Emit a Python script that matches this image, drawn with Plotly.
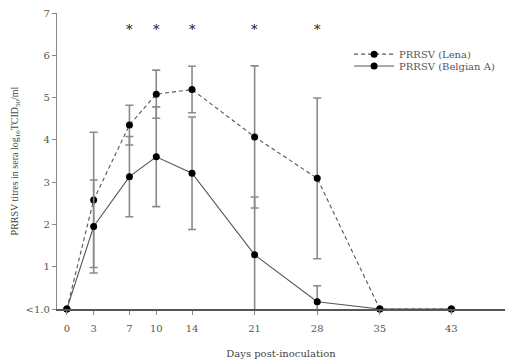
import plotly.graph_objects as go

days = [0, 3, 7, 10, 14, 21, 28, 35, 43]
lena = [0, 2.58, 4.35, 5.08, 5.19, 4.07, 3.09, 0, 0]
lena_err = [0, 1.6, 0.47, 0.57, 0.55, 1.68, 1.9, 0, 0]
belg = [0, 1.95, 3.13, 3.6, 3.21, 1.28, 0.17, 0, 0]
belg_err = [0, 1.1, 0.95, 1.18, 1.33, 1.37, 0.38, 0, 0]
sig_days = [7, 10, 14, 21, 28]
sig_y = 6.6
y_ticks = [0, 1, 2, 3, 4, 5, 6, 7]
y_labels = ["<1.0", "1", "2", "3", "4", "5", "6", "7"]

wide = "DejaVu Serif"
narrow = "Liberation Serif"
fig = go.Figure()
fig.add_trace(go.Scatter(
    x=days, y=lena, name="PRRSV (Lena)", mode="lines+markers", legend="legend",
    line=dict(color="#555", width=1.1, dash="4px,3px"),
    marker=dict(color="black", size=7, symbol="circle"),
    error_y=dict(type="data", array=lena_err, color="#8a8a8a", thickness=1.6, width=4),
    cliponaxis=False))
fig.add_trace(go.Scatter(
    x=days, y=belg, name="PRRSV (Belgian A)", mode="lines+markers", legend="legend2",
    line=dict(color="#555", width=1.1),
    marker=dict(color="black", size=7, symbol="circle"),
    error_y=dict(type="data", array=belg_err, color="#8a8a8a", thickness=1.6, width=4),
    cliponaxis=False))

for d in sig_days:
    fig.add_annotation(x=d, y=sig_y, text="*", showarrow=False,
                       font=dict(family=wide, size=13, color="#111"))

leg_common = dict(xanchor="left", yanchor="middle", bgcolor="rgba(0,0,0,0)",
                  font=dict(family=wide, size=10, color="#555"),
                  itemwidth=40, borderwidth=0)
fig.update_layout(
    width=508, height=355, plot_bgcolor="white", paper_bgcolor="white",
    margin=dict(l=49, r=11, t=5, b=54, autoexpand=False),
    font=dict(family=wide, size=10, color="#555"),
    showlegend=True,
    legend=dict(x=0.652, y=0.861, **leg_common),
    legend2=dict(x=0.652, y=0.821, **leg_common),
    xaxis=dict(range=[-1.1, 49.0], tickvals=days, ticks="outside", ticklen=4,
               ticklabelstandoff=5, ticklabeloverflow="allow",
               showgrid=False, zeroline=False, showline=True, linecolor="#555",
               linewidth=1.6, tickcolor="#888", automargin=False,
               tickfont=dict(family=wide, size=10, color="#555"),
               title=dict(text="Days post-inoculation", font=dict(family=wide, size=10, color="#444"), standoff=17)),
    yaxis=dict(range=[0, 7], tickvals=y_ticks, ticktext=y_labels, ticks="outside",
               ticklen=4, showgrid=False, zeroline=False, showline=True,
               ticklabeloverflow="allow",
               linecolor="#888", linewidth=1.2, tickcolor="#888", automargin=False,
               tickfont=dict(family=wide, size=10, color="#555"),
               title=dict(text="PRRSV titres in sera log<sub>10</sub>TCID<sub>50</sub>/ml",
                          font=dict(family=narrow, size=10, color="#444"), standoff=5)),
)
fig.write_html("out.html")
